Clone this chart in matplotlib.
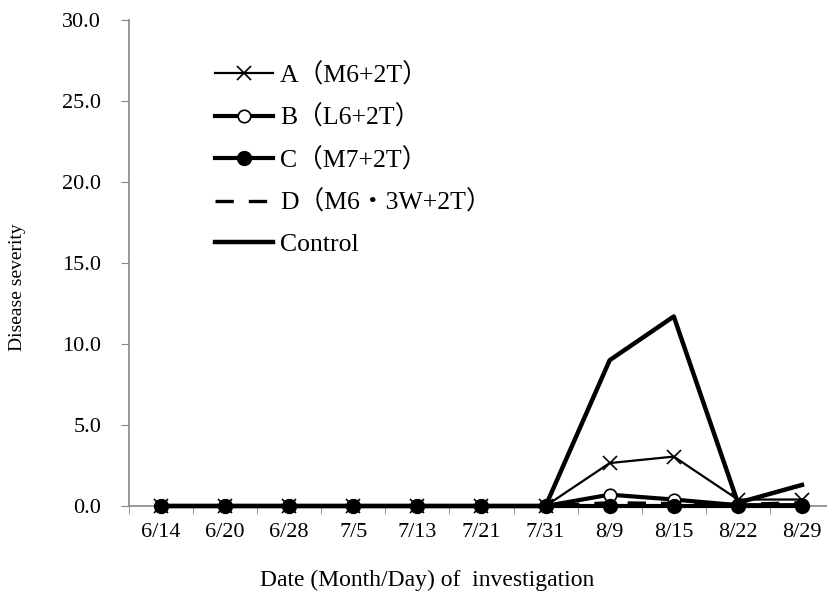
import matplotlib.pyplot as plt
from matplotlib.ticker import FixedLocator

plt.rcParams['font.family'] = ['Liberation Serif', 'Noto Sans CJK JP']

dates = ["6/14", "6/20", "6/28", "7/5", "7/13", "7/21", "7/31",
         "8/9", "8/15", "8/22", "8/29"]
a_vals = [0, 0, 0, 0, 0, 0, 0, 2.65, 3.05, 0.4, 0.4]
b_vals = [0, 0, 0, 0, 0, 0, 0, 0.7, 0.4, 0.05, 0.05]
c_vals = [0, 0, 0, 0, 0, 0, 0, 0, 0, 0, 0]
d_vals = [0, 0, 0, 0, 0, 0, 0, 0.2, 0.15, 0.1, 0.2]
ctrl_vals = [0, 0, 0, 0, 0, 0, 0, 9.0, 11.7, 0.2, 1.3]

labels = ["A（M6+2T）", "B（L6+2T）", "C（M7+2T）", "D（M6・3W+2T）", "Control"]

W, H = 828, 598
fig = plt.figure(figsize=(W / 100, H / 100), dpi=100)
ax = fig.add_axes([129 / W, 92 / H, 705 / W, 486 / H])

x = list(range(len(dates)))
ax.plot(x, a_vals, color="black", lw=1.6, marker="x", ms=9.5, mew=1.2,
        label=labels[0], clip_on=False)
ax.plot(x, b_vals, color="black", lw=3, marker="o", ms=9, mfc="white",
        mew=1.2, label=labels[1], clip_on=False)
ax.plot(x, c_vals, color="black", lw=3, marker="o", ms=10, mfc="black",
        label=labels[2], clip_on=False)
ax.plot(x, d_vals, color="black", lw=2.4, ls=(0, (5.5, 4.5)), label=labels[3],
        clip_on=False)
ax.plot(x, ctrl_vals, color="black", lw=3.2, label=labels[4], clip_on=False)

ax.set_xlim(-0.5, 10.5)
ax.set_ylim(0, 30)
ax.set_yticks([0, 5, 10, 15, 20, 25, 30])
ax.set_yticklabels([f"{v:.1f}" for v in [0, 5, 10, 15, 20, 25, 30]])
ax.set_xticks(x)
ax.set_xticklabels(dates)
ax.xaxis.set_minor_locator(FixedLocator([i - 0.5 for i in range(12)]))
ax.tick_params(axis="x", which="major", length=0, pad=12, labelsize=16)
ax.tick_params(axis="x", which="minor", length=6, color="#868686",
               direction="out")
ax.tick_params(axis="y", length=6, color="#868686", labelsize=16, pad=14)

for s in ("top", "right"):
    ax.spines[s].set_visible(False)
for s in ("left", "bottom"):
    ax.spines[s].set_color("#868686")
    ax.spines[s].set_linewidth(1.2)
    ax.spines[s].set_zorder(0)

fig.text(18 / W, 1 - 287 / H, "Disease severity", fontsize=14,
         rotation=90, ha="center", va="center")
fig.text(427 / W, 1 - 580 / H, "Date (Month/Day) of  investigation",
         fontsize=17, ha="center", va="center")

ax.legend(loc="upper left", bbox_to_anchor=(215 / W, 1 - 63 / H),
          bbox_transform=fig.transFigure, frameon=False, fontsize=18.5,
          handlelength=2.26, handletextpad=0.27, labelspacing=0.7,
          borderpad=0, borderaxespad=0)

fig.savefig("out.png", dpi=100)
